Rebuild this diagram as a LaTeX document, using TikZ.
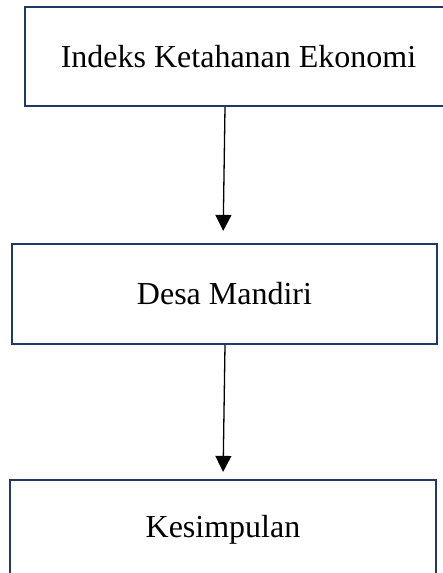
\documentclass[tikz,border=0pt]{standalone}
\usepackage{fontspec}
\setmainfont{Liberation Serif}
\usetikzlibrary{arrows.meta}
\definecolor{boxnavy}{RGB}{31,56,100}
\tikzset{
  flowbox/.style={draw=boxnavy, line width=2.2pt, minimum width=#1, minimum height=100pt,
    inner sep=0pt, font=\fontsize{32}{38}\selectfont},
  flowarrow/.style={-{Triangle[width=16pt,length=16pt]}, line width=1.3pt}
}
\begin{document}
\begin{tikzpicture}[x=1pt,y=-1pt]
\useasboundingbox (0,0) rectangle (442,573);
\node[flowbox=427pt, minimum height=99pt] (indeks) at (238.5,56.5) {Indeks Ketahanan Ekonomi};
\node[flowbox=425pt] (desa) at (224.5,294) {Desa Mandiri};
\node[flowbox=426pt] (kesimpulan) at (223,530) {Kesimpulan};
\draw[flowarrow, shorten >=12pt] ([xshift=-13.5pt]indeks.south) -- ([xshift=-1.5pt]desa.north);
\draw[flowarrow, shorten >=7pt] ([xshift=0.5pt]desa.south) -- (kesimpulan.north);
\end{tikzpicture}
\end{document}
